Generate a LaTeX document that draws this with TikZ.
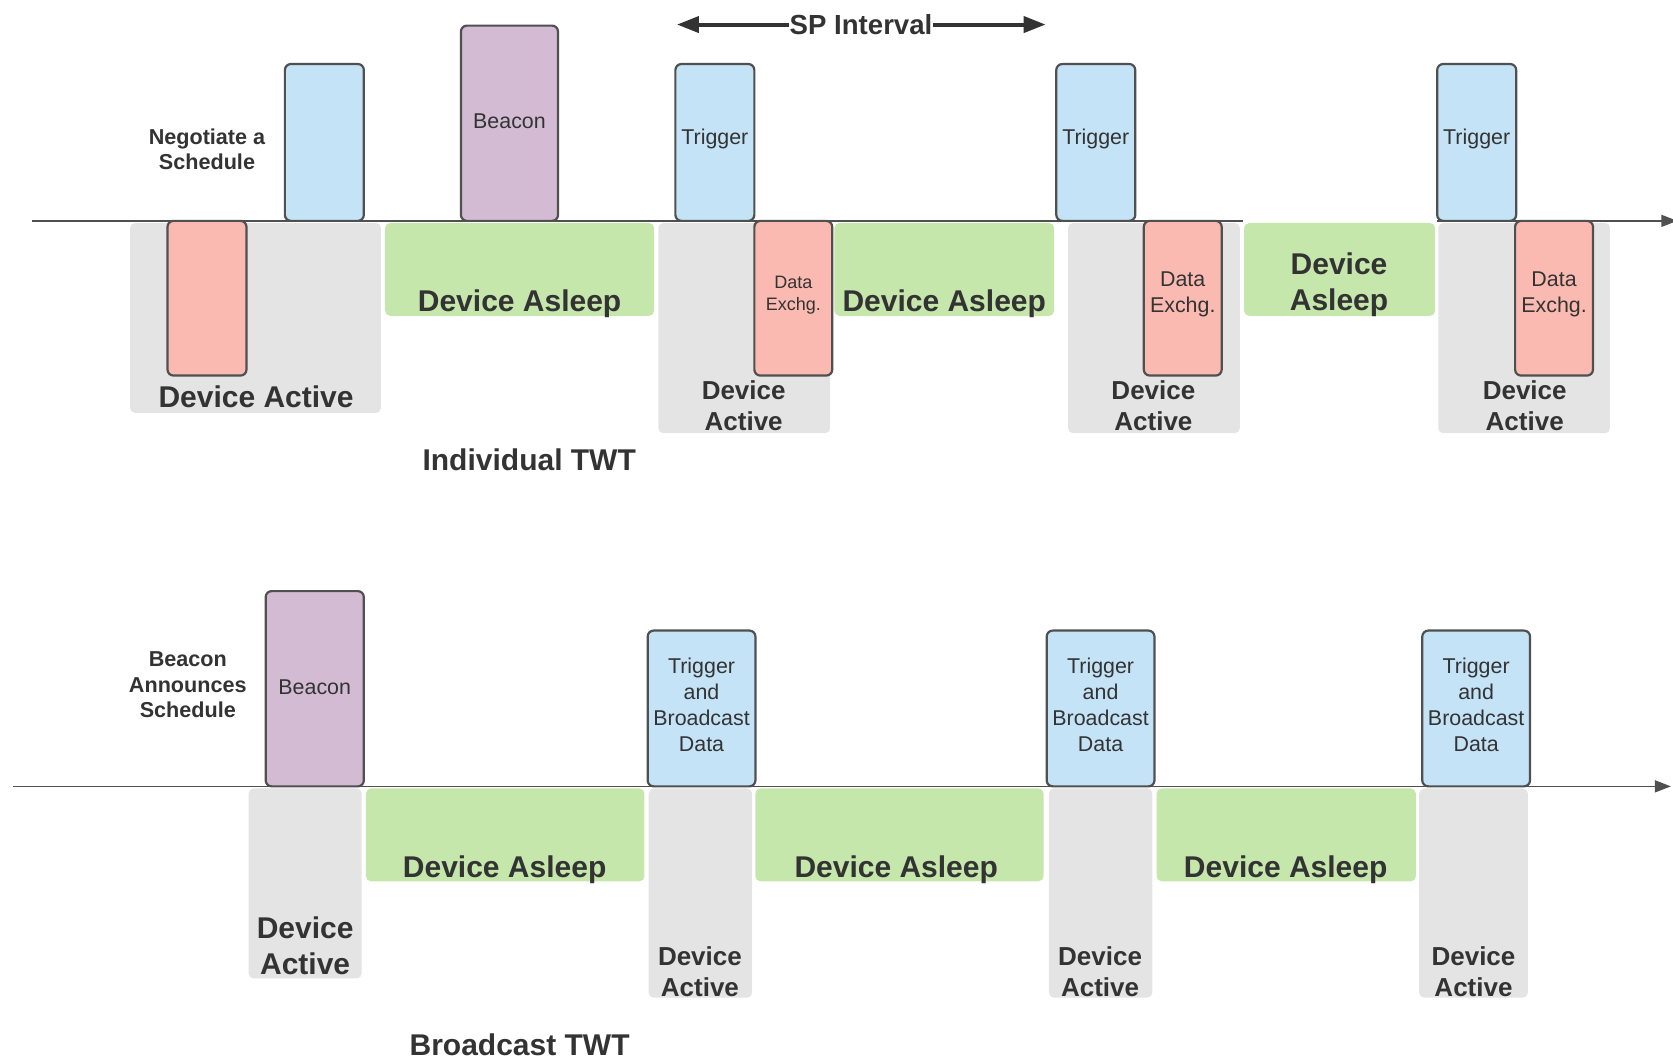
\documentclass[tikz,border=0pt]{standalone}
\usepackage{fontspec}
\setmainfont{Liberation Sans}
\usepackage{xcolor}
\usetikzlibrary{arrows.meta, positioning}

\definecolor{trigblue}{HTML}{C4E3F6}
\definecolor{beaconpurple}{HTML}{D3BCD3}
\definecolor{datared}{HTML}{FBBAB1}
\definecolor{asleepgreen}{HTML}{C6E7AB}
\definecolor{activegrey}{HTML}{E4E4E4}
\definecolor{linegrey}{HTML}{505050}
\definecolor{txtgrey}{HTML}{333333}

\tikzset{
  boxline/.style={draw=linegrey, line width=1.1pt, rounded corners=3pt},
  zone/.style={rounded corners=2.5pt},
  timeline/.style={draw=linegrey, line width=0.8pt},
  bigtxt/.style={font=\fontsize{15}{18}\selectfont\bfseries, text=txtgrey, align=center, inner sep=0pt},
  midtxt/.style={font=\fontsize{13}{15.5}\selectfont\bfseries, text=txtgrey, align=center, inner sep=0pt},
  notetxt/.style={font=\fontsize{10.8}{12.8}\selectfont\bfseries, text=txtgrey, align=center, inner sep=0pt},
  boxtxt/.style={font=\fontsize{10.7}{13}\selectfont, text=txtgrey, align=center, inner sep=0pt},
  smalltxt/.style={font=\fontsize{9}{11.2}\selectfont, text=txtgrey, align=center, inner sep=0pt},
}

\begin{document}
\begin{tikzpicture}[x=0.5335pt, y=-0.5335pt]
        \useasboundingbox (0,0) rectangle (1568,994);

        % Individual TWT: active / asleep zones
        \fill[zone, activegrey] (122,209) rectangle (357,387);
        \foreach \x in {617, 1001, 1348} {
            \fill[zone, activegrey] (\x,209) rectangle (\x+161,406);
        }
        \fill[zone, asleepgreen] (361,209) rectangle (613,296);
        \fill[zone, asleepgreen] (782,209) rectangle (988,296);
        \fill[zone, asleepgreen] (1166,209) rectangle (1345,296);

        % Time line
        \coordinate (iStart) at (30,207);
        \coordinate (iBreak) at (1165,207);
        \coordinate (iResume) at (1347,207);
        \coordinate (iEnd) at (1572,207);
        \draw[timeline] (iStart) -- (iBreak);
        \draw[timeline, -{Triangle[length=8pt,width=6pt]}] (iResume) -- (iEnd);

        % SP interval
        \coordinate (spL) at (634.5,23);
        \coordinate (spR) at (980,23);
        \node[font=\fontsize{13.8}{16}\selectfont\bfseries, text=txtgrey, inner sep=0pt] (sp) at (807,23) {SP Interval};
        \draw[line width=2pt, txtgrey, -{Triangle[length=11pt,width=8pt]}] (sp.west) -- (spL);
        \draw[line width=2pt, txtgrey, -{Triangle[length=11pt,width=8pt]}] (sp.east) -- (spR);

        % Frames above / below the line
        \draw[boxline, fill=trigblue] (267,60) rectangle (341,207);
        \draw[boxline, fill=datared] (157,207) rectangle (231,352);
        \draw[boxline, fill=beaconpurple] (432,24) rectangle (523,207);
        \node[boxtxt] (beacon1) at (477.5,114) {Beacon};
        \foreach \x/\i in {633/1, 990/2, 1347/3} {
            \draw[boxline, fill=trigblue] (\x,60) rectangle (\x+74,207);
            \node[boxtxt] (trig\i) at (\x+37,130) {Trigger};
        }
        \foreach \x/\i in {707/1, 1072/2, 1420/3} {
            \draw[boxline, fill=datared] (\x,207) rectangle (\x+73,352);
        }
        \node[smalltxt] (data1) at (743.5,276.5) {Data\\Exchg.};
        \node[boxtxt] (data2) at (1108.5,275.5) {Data\\Exchg.};
        \node[boxtxt] (data3) at (1456.5,275.5) {Data\\Exchg.};

        % Labels
        \node[notetxt] (nego) at (194,140) {Negotiate a\\Schedule};
        \node[bigtxt] (act0) at (240,372) {Device Active};
        \foreach \x/\i in {697/1, 1081/2, 1429/3} {
            \node[midtxt] (act\i) at (\x,380.5) {Device\\Active};
        }
        \node[bigtxt] (sleep1) at (487,285) {Device Asleep};
        \node[bigtxt] (sleep2) at (885,285) {Device Asleep};
        \node[bigtxt] (sleep3) at (1255,267) {Device\\Asleep};
        \node[bigtxt] (indiv) at (496,431) {Individual TWT};

        % Broadcast TWT: active / asleep zones
        \fill[zone, activegrey] (233,739) rectangle (339,917);
        \foreach \x/\w in {608/97, 983/97, 1330/102} {
            \fill[zone, activegrey] (\x,739) rectangle (\x+\w,935);
        }
        \fill[zone, asleepgreen] (343,739) rectangle (604,826);
        \fill[zone, asleepgreen] (708,739) rectangle (978,826);
        \fill[zone, asleepgreen] (1084,739) rectangle (1327,826);

        % Time line
        \coordinate (bStart) at (12,737);
        \coordinate (bEnd) at (1566,737);
        \draw[timeline, -{Triangle[length=8pt,width=6pt]}] (bStart) -- (bEnd);

        % Frames above the line
        \draw[boxline, fill=beaconpurple] (249,554) rectangle (341,737);
        \node[boxtxt] (beacon2) at (295,644) {Beacon};
        \foreach \x/\i in {607/1, 981/2, 1333/3} {
            \draw[boxline, fill=trigblue] (\x,591) rectangle (\x+101,737);
            \node[boxtxt] (bcast\i) at (\x+50.5,661) {Trigger\\and\\Broadcast\\Data};
        }

        % Labels
        \node[notetxt] (announce) at (176,642) {Beacon\\Announces\\Schedule};
        \node[bigtxt] (bact0) at (286,886.5) {Device\\Active};
        \foreach \x/\i in {656/1, 1031/2, 1381/3} {
            \node[midtxt] (bact\i) at (\x,910.5) {Device\\Active};
        }
        \foreach \x/\i in {473/1, 840/2, 1205/3} {
            \node[bigtxt] (bsleep\i) at (\x,815) {Device Asleep};
        }
        \node[bigtxt] (bcastTWT) at (487,979) {Broadcast TWT};
\end{tikzpicture}
\end{document}
